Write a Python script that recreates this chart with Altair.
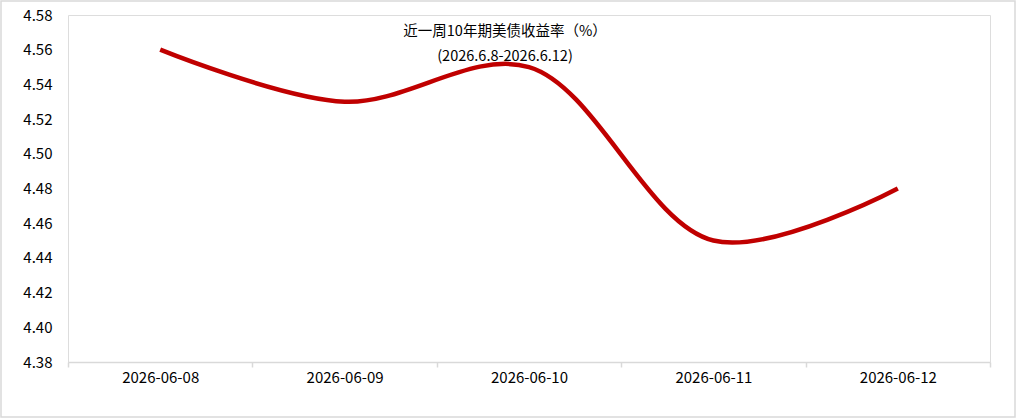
import altair as alt
import pandas as pd

dates = ["2026-06-08", "2026-06-09", "2026-06-10", "2026-06-11", "2026-06-12"]
yields = [4.56, 4.53, 4.55, 4.45, 4.48]
y_ticks = [4.38, 4.40, 4.42, 4.44, 4.46, 4.48, 4.50, 4.52, 4.54, 4.56, 4.58]
title_lines = ["近一周10年期美债收益率（%）", "(2026.6.8-2026.6.12)"]

df = pd.DataFrame({"date": dates, "yield": yields})

W, H = 922, 347
PL, PT, PR, PB = 68, 15, 26, 56
FONT = "Noto Sans CJK SC"

line = alt.Chart(df).mark_line(
    color="#C00000", strokeWidth=4.5, interpolate="catmull-rom"
).encode(
    x=alt.X("date:N", sort=dates, title=None,
            scale=alt.Scale(paddingInner=0, paddingOuter=0),
            axis=alt.Axis(labelAngle=0, tickBand="extent", domainColor="#d9d9d9",
                          domainWidth=1.5, tickColor="#d9d9d9", tickWidth=1.5,
                          tickSize=5, labelPadding=3, labelFontSize=15,
                          labelColor="#000000", labelFont=FONT, grid=False)),
    y=alt.Y("yield:Q", title=None,
            scale=alt.Scale(domain=[4.38, 4.58], nice=False, zero=False),
            axis=alt.Axis(values=y_ticks, format=".2f", domain=False, ticks=False,
                          grid=False, labelPadding=16, labelFontSize=15,
                          labelColor="#000000", labelFont=FONT)),
)

border = alt.Chart(pd.DataFrame({"a": [0]})).mark_rect(
    fill=None, stroke="#d9d9d9", strokeWidth=1.5
).encode(
    x=alt.value(-PL + 1), x2=alt.value(W + PR - 1),
    y=alt.value(-PT + 1), y2=alt.value(H + PB - 1),
)

chart = alt.layer(border, line).properties(
    width=W, height=H,
    padding={"left": PL, "top": PT, "right": PR, "bottom": PB},
    autosize=alt.AutoSizeParams(type="none"),
    title=alt.TitleParams(
        text=title_lines, font=FONT, fontSize=14.5, fontWeight="normal",
        color="#000000", anchor="middle", frame="group", lineHeight=25,
        baseline="top", dx=-24, dy=64, offset=0,
    ),
).configure_view(stroke=None).configure(background="white")

chart.save("out.html", embed_options={"renderer": "svg", "actions": False})
